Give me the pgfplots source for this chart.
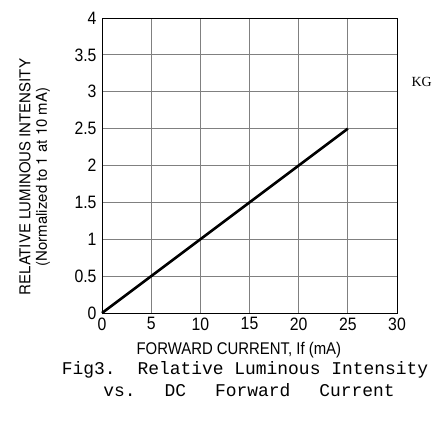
\documentclass[border=0pt]{standalone}
\usepackage{fontspec}
\setmainfont{Liberation Sans}[FakeStretch=0.88]
\newfontfamily\ylfont{TeX Gyre Heros}
\newfontfamily\capfont{Liberation Mono}
\newfontfamily\kgfont{Liberation Serif}
\usepackage{pgfplots}
\pgfplotsset{compat=1.18}

\begin{document}
\begin{tikzpicture}[x=1bp,y=1bp]
\useasboundingbox (-102,-108) rectangle (343,313);
\begin{axis}[
    at={(0,0)}, anchor=origin,
    scale only axis,
    width=295bp, height=295bp,
    xmin=0, xmax=30, ymin=0, ymax=4,
    xtick={0,5,...,30},
    ytick={0,0.5,...,4},
    yticklabels={0,0.5,1,1.5,2,2.5,3,3.5,4},
    grid=major,
    major grid style={gray, line width=0.8pt},
    axis line style={black, line width=0.9pt},
    major tick length=0pt,
    ticklabel style={font=\fontsize{18}{19}\selectfont},
    /pgf/number format/assume math mode=true,
    xticklabel style={yshift=-1bp},
    yticklabel style={xshift=-2bp},
    xlabel={FORWARD CURRENT, If (mA)},
    xlabel style={at={(axis description cs:0.464,-0.125)}, anchor=center,
        font=\fontsize{17}{19}\selectfont},
    clip=false,
]
\addplot[black, line width=2.6pt] coordinates {(0,0) (25,2.5)};
\node[font=\kgfont\fontsize{14}{15}\selectfont] at (axis cs:32.5,3.13) {KG};
\end{axis}
\node[rotate=90, font=\ylfont\fontsize{15}{18}\selectfont] at (-77,136) {RELATIVE LUMINOUS INTENSITY};
\node[rotate=90, font=\ylfont\fontsize{15}{18}\selectfont] at (-59,136) {(Normalized to 1 at 10 mA)};
\node[font=\capfont\fontsize{18}{20}\selectfont] at (143,-57) {Fig3.\hspace{22bp}Relative Luminous Intensity};
\node[font=\capfont\fontsize{18}{20}\selectfont] at (147,-77) {vs.\hspace{29bp}DC\hspace{29bp}Forward\hspace{29bp}Current};
\end{tikzpicture}
\end{document}
